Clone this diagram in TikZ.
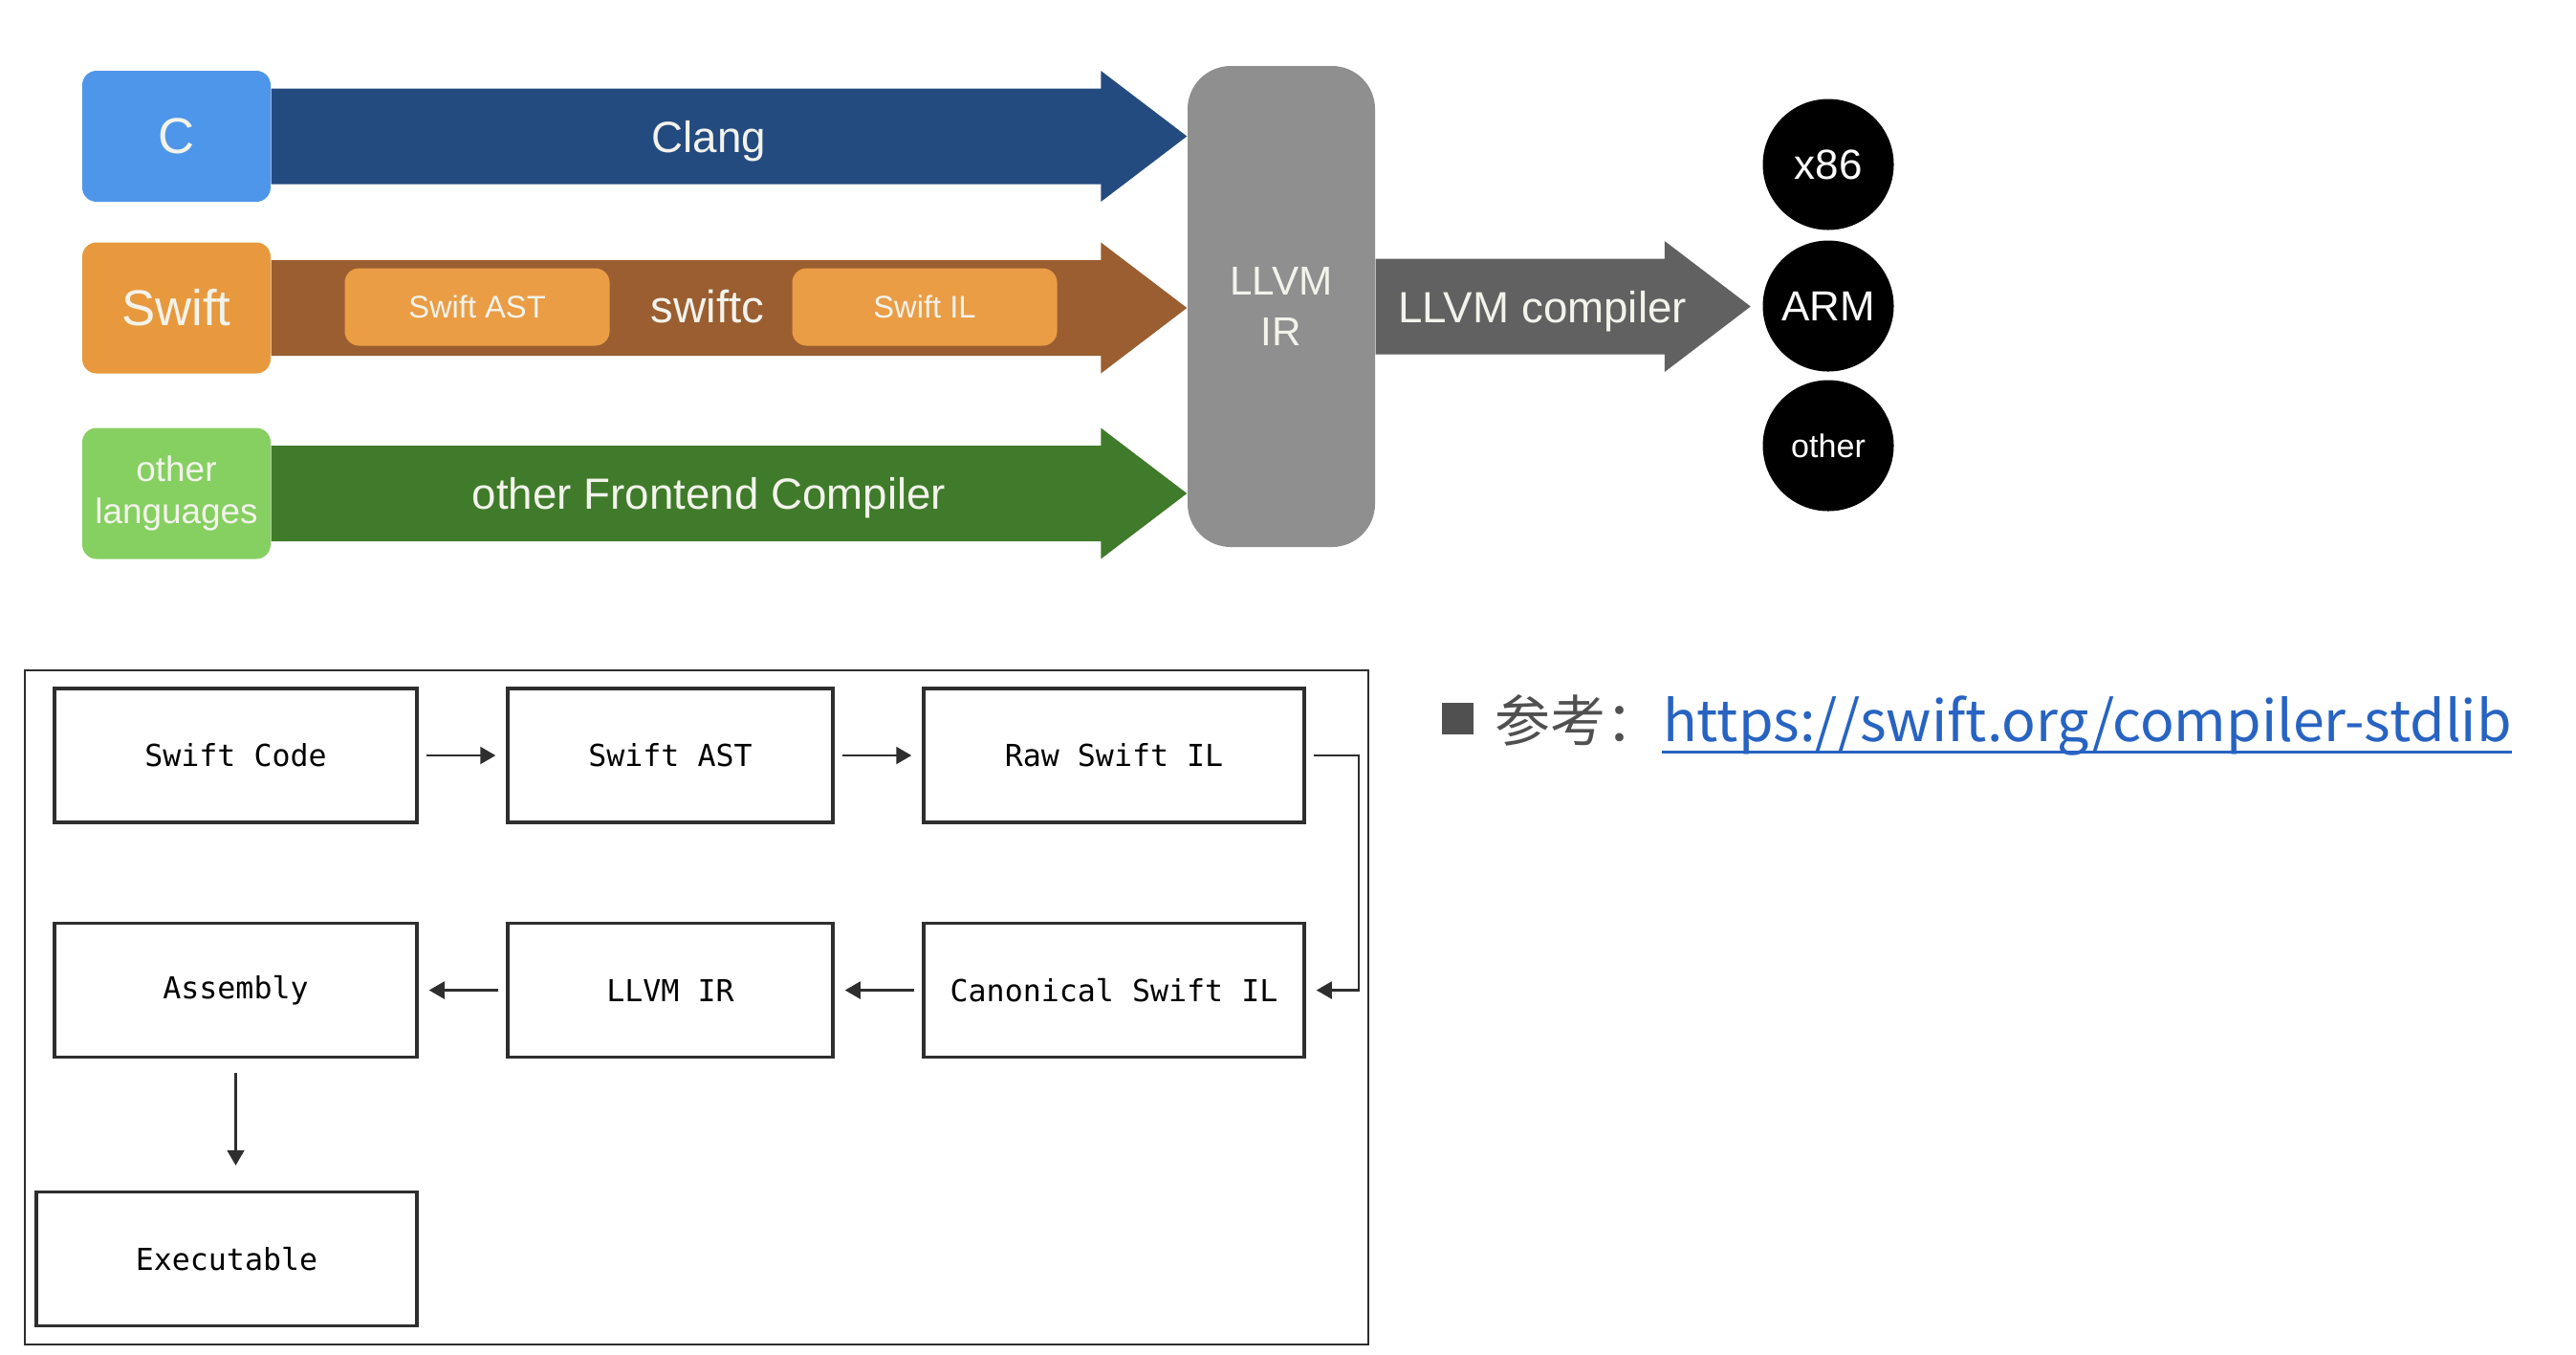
\documentclass[tikz,border=0pt]{standalone}
\usepackage{fontspec}
\setmainfont{Liberation Sans}
\newfontfamily\codefont{DejaVu Sans Mono}
\newfontfamily\cjkfont{Noto Sans CJK SC}
\usetikzlibrary{positioning,calc,arrows.meta}

\definecolor{langblue}{HTML}{4E96EA}
\definecolor{clangblue}{HTML}{244B80}
\definecolor{langorange}{HTML}{E8993D}
\definecolor{swiftbrown}{HTML}{9A5E31}
\definecolor{stageorange}{HTML}{EA9D45}
\definecolor{langgreen}{HTML}{86CF61}
\definecolor{frontgreen}{HTML}{3F7B2A}
\definecolor{irgray}{HTML}{8F8F8F}
\definecolor{backgray}{HTML}{616161}
\definecolor{paleink}{HTML}{F3F3EC}
\definecolor{boxline}{HTML}{2E2E2E}
\definecolor{linkblue}{HTML}{2763C2}
\definecolor{refgray}{HTML}{505050}

% fat arrow: colour, start, tip, label, label position
\newcommand{\fatarrow}[5]{%
  \fill[#1] ($(#2)+(0,0.5)$) -- ($(#3)+(-0.9,0.5)$) -- ($(#3)+(-0.9,0.685)$)
    -- (#3) -- ($(#3)+(-0.9,-0.685)$) -- ($(#3)+(-0.9,-0.5)$)
    -- ($(#2)+(0,-0.5)$) -- cycle;
  \path (#2) -- node[pos=#5, arrowtext, yshift=-0.05cm] {#4} (#3);}

\begin{document}
\begin{tikzpicture}[on grid, node distance=2cm,
    langbox/.style={minimum width=1.97cm, minimum height=1.37cm, inner sep=0,
      rounded corners=0.15cm, text=paleink, font=\fontsize{15}{18}\selectfont},
    arrowtext/.style={text=paleink, inner sep=0, font=\fontsize{13}{15}\selectfont},
    stagebox/.style={fill=stageorange, rounded corners=0.15cm, minimum width=2.77cm,
      minimum height=0.81cm, inner sep=0, text=paleink, font=\fontsize{9.3}{11}\selectfont},
    target/.style={circle, fill=black, minimum size=1.37cm, inner sep=0, text=white,
      font=\fontsize{12.5}{15}\selectfont},
    stage/.style={draw=boxline, line width=1pt, fill=white, minimum height=1.4cm,
      inner sep=0, font=\codefont\fontsize{9}{11}\selectfont},
    flow/.style={-{Triangle[length=1.6mm,width=1.8mm]}, draw=boxline, line width=0.6pt,
      shorten <=0.08cm, shorten >=0.11cm}]
  \useasboundingbox (0,0) rectangle (26.94,-14.16);
  \fill[white] (0,0) rectangle (26.94,-14.16);

  % front ends
  \node[langbox, fill=langblue] (c) at (1.845,-1.425) {C};
  \node[langbox, fill=langorange] (swift) at (1.845,-3.22) {Swift};
  \node[langbox, fill=langgreen, align=center, font=\fontsize{10.5}{12.7}\selectfont]
    (otherlang) at (1.845,-5.16) {other\\languages};
  \node[fill=irgray, rounded corners=0.45cm, minimum width=1.96cm, minimum height=5.03cm,
    align=center, text=paleink, font=\fontsize{12}{15}\selectfont] (ir) at (13.4,-3.205) {LLVM\\IR};

  % targets
  \node[target] (arm) at (19.12,-3.2) {ARM};
  \node[target, above=1.48cm of arm] (x86) {x86};
  \node[target, below=1.46cm of arm, font=\fontsize{9.7}{12}\selectfont] (other) {other};

  \coordinate (clangtip) at (ir.west |- c.east);
  \coordinate (swifttip) at (ir.west |- swift.east);
  \coordinate (othertip) at (ir.west |- otherlang.east);
  \coordinate (comptip) at ($(arm.west |- ir.east)+(-0.12,0)$);
  \fatarrow{clangblue}{c.east}{clangtip}{Clang}{0.478}
  \fatarrow{swiftbrown}{swift.east}{swifttip}{}{0.5}
  \fatarrow{frontgreen}{otherlang.east}{othertip}{other Frontend Compiler}{0.478}
  \fatarrow{backgray}{ir.east}{comptip}{LLVM compiler}{0.445}

  \node[arrowtext, font=\fontsize{13.5}{16}\selectfont] (swiftc) at (7.4,-3.21) {swiftc};
  \node[stagebox, left=2.41cm of swiftc] (swiftast) {Swift AST};
  \node[stagebox, right=2.27cm of swiftc] (swiftil) {Swift IL};

  % pipeline
  \draw[boxline, line width=0.6pt] (0.26,-7.01) rectangle (14.31,-14.06);
  \node[stage, minimum width=3.79cm] (code) at (2.465,-7.9) {Swift Code};
  \node[stage, minimum width=3.40cm, right=4.545cm of code] (ast) {Swift AST};
  \node[stage, minimum width=3.98cm, right=4.64cm of ast] (raw) {Raw Swift IL};
  \node[stage, minimum width=3.98cm, below=2.455cm of raw] (canon) {Canonical Swift IL};
  \node[stage, minimum width=3.40cm, below=2.455cm of ast] (llvmir) {LLVM IR};
  \node[stage, minimum width=3.79cm, below=2.455cm of code] (asm) {Assembly};
  \node[stage, minimum width=3.98cm, below left=2.81cm and 0.095cm of asm] (exe) {Executable};

  \draw[flow] (code) -- (ast);
  \draw[flow] (ast) -- (raw);
  \draw[flow] (raw.east) -- ++(0.55,0) |- (canon.east);
  \draw[flow] (canon) -- (llvmir);
  \draw[flow] (llvmir) -- (asm);
  \draw[flow, shorten <=0.15cm, shorten >=0.26cm] (asm.south) -- (asm.south |- exe.north);

  % reference
  \node[fill=refgray, minimum size=0.33cm, inner sep=0] (bullet) at (15.245,-7.515) {};
  \node[anchor=west, inner sep=0, text=refgray, font=\cjkfont\fontsize{16.5}{20}\selectfont]
    (refword) at (15.63,-7.53) {参考：};
  \node[anchor=base west, inner sep=0, text=linkblue, font=\cjkfont\fontsize{16.8}{21}\selectfont]
    (link) at (refword.base east) {https://swift.org/compiler-stdlib};
  \draw[linkblue, line width=0.9pt] ([yshift=-1.1mm]link.base west) -- ([yshift=-1.1mm]link.base east);
\end{tikzpicture}
\end{document}
